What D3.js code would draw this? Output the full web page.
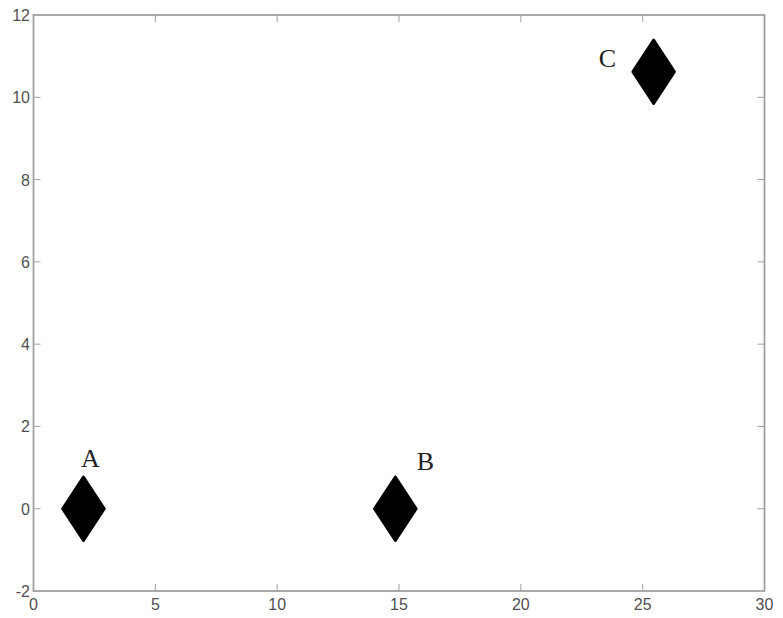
<!DOCTYPE html>
<html>
<head>
<meta charset="utf-8">
<script src="https://cdn.jsdelivr.net/npm/d3@7"></script>
<style>
  html, body { margin: 0; padding: 0; background: #fff; }
  svg { display: block; }
</style>
</head>
<body>
<svg id="chart" width="783" height="618"></svg>
<script>
// Data
const pointNames = ["A", "B", "C"];
const pointX = [2.05, 14.85, 25.45];
const pointY = [0, 0, 10.62];
const labelX = [2.33, 16.08, 23.55];
const labelY = [1.02, 0.94, 10.74];
const xTicks = [0, 5, 10, 15, 20, 25, 30];
const yTicks = [-2, 0, 2, 4, 6, 8, 10, 12];

(function () {
const svg = d3.select("#chart");
const mLeft = 33.5, mRight = 764.5, mTop = 15, mBottom = 591;

const x = d3.scaleLinear().domain([0, 30]).range([mLeft, mRight]);
const y = d3.scaleLinear().domain([-2, 12]).range([mBottom, mTop]);

const axisColor = "#a0a0a0";
const labelColor = "#505050";
const tickLen = 7;

// Ticks (inward, on all four sides)
const g = svg.append("g");
xTicks.forEach(t => {
  if (t === 0 || t === 30) return;
  g.append("line").attr("x1", x(t)).attr("x2", x(t)).attr("y1", mBottom).attr("y2", mBottom - tickLen)
    .attr("stroke", axisColor).attr("stroke-width", 1);
  g.append("line").attr("x1", x(t)).attr("x2", x(t)).attr("y1", mTop).attr("y2", mTop + tickLen)
    .attr("stroke", axisColor).attr("stroke-width", 1);
});
yTicks.forEach(t => {
  if (t === -2 || t === 12) return;
  g.append("line").attr("x1", mLeft).attr("x2", mLeft + tickLen).attr("y1", y(t)).attr("y2", y(t))
    .attr("stroke", axisColor).attr("stroke-width", 1);
  g.append("line").attr("x1", mRight).attr("x2", mRight - tickLen).attr("y1", y(t)).attr("y2", y(t))
    .attr("stroke", axisColor).attr("stroke-width", 1);
});

// Box
svg.append("rect").attr("x", mLeft).attr("y", mTop).attr("width", mRight - mLeft).attr("height", mBottom - mTop)
  .attr("fill", "none").attr("stroke", axisColor).attr("stroke-width", 1.8);

// Tick labels
svg.selectAll(".xl").data(xTicks).enter().append("text")
  .attr("x", d => x(d)).attr("y", 610)
  .attr("text-anchor", "middle")
  .attr("font-family", "Liberation Sans, Arial, sans-serif").attr("font-size", 16)
  .attr("fill", labelColor).text(d => d);

svg.selectAll(".yl").data(yTicks).enter().append("text")
  .attr("x", 30).attr("y", d => y(d) + 6)
  .attr("text-anchor", "end")
  .attr("font-family", "Liberation Sans, Arial, sans-serif").attr("font-size", 16)
  .attr("fill", labelColor).text(d => d);

// Diamond markers
const hw = 21, hh = 32;
const diamond = (cx, cy) => `M${cx},${cy - hh}L${cx + hw},${cy}L${cx},${cy + hh}L${cx - hw},${cy}Z`;
svg.selectAll(".pt").data(pointNames).enter().append("path")
  .attr("d", (d, i) => diamond(x(pointX[i]), y(pointY[i])))
  .attr("fill", "#000").attr("stroke", "#000").attr("stroke-width", 2.5).attr("stroke-linejoin", "round");

// Point labels
svg.selectAll(".pl").data(pointNames).enter().append("text")
  .attr("x", (d, i) => x(labelX[i])).attr("y", (d, i) => y(labelY[i]))
  .attr("text-anchor", "middle")
  .attr("font-family", "Liberation Serif, Times New Roman, serif").attr("font-size", 26)
  .attr("fill", "#222").text(d => d);
})();
</script>
</body>
</html>
